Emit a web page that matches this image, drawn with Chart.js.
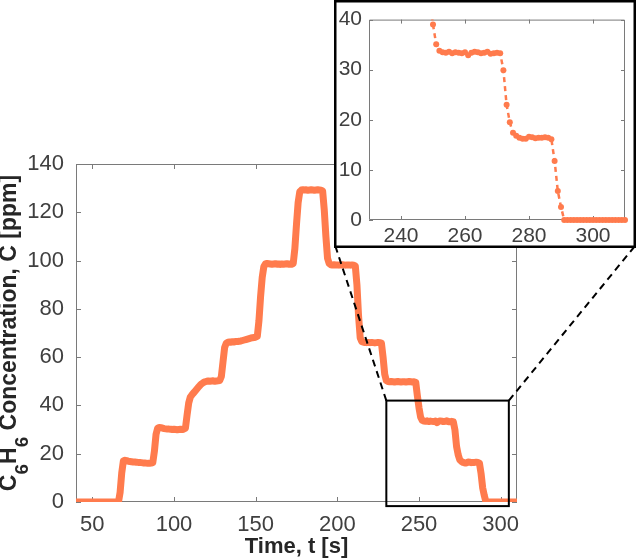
<!DOCTYPE html>
<html>
<head>
<meta charset="utf-8">
<script src="https://cdn.jsdelivr.net/npm/chart.js@4.4.0/dist/chart.umd.min.js"></script>
<style>
  html, body { margin: 0; padding: 0; background: #fff; }
  #wrap { position: relative; width: 640px; height: 558px; overflow: hidden; }
  #main { position: absolute; left: 0; top: 0; }
  #inset { position: absolute; left: 334px; top: 0; }
</style>
</head>
<body>
<div id="wrap">
  <canvas id="main" width="640" height="558"></canvas>
  <canvas id="inset" width="302" height="248"></canvas>
</div>
<script>
// Tiempo [s]
const tiempos = [
  40, 41, 42, 43, 44, 45, 46, 47, 48, 49,
  50, 51, 52, 53, 54, 55, 56, 57, 58, 59,
  60, 61, 62, 63, 64, 65, 66, 67, 68, 69,
  70, 71, 72, 73, 74, 75, 76, 77, 78, 79,
  80, 81, 82, 83, 84, 85, 86, 87, 88, 89,
  90, 91, 92, 93, 94, 95, 96, 97, 98, 99,
  100, 101, 102, 103, 104, 105, 106, 107, 108, 109,
  110, 111, 112, 113, 114, 115, 116, 117, 118, 119,
  120, 121, 122, 123, 124, 125, 126, 127, 128, 129,
  130, 131, 132, 133, 134, 135, 136, 137, 138, 139,
  140, 141, 142, 143, 144, 145, 146, 147, 148, 149,
  150, 151, 152, 153, 154, 155, 156, 157, 158, 159,
  160, 161, 162, 163, 164, 165, 166, 167, 168, 169,
  170, 171, 172, 173, 174, 175, 176, 177, 178, 179,
  180, 181, 182, 183, 184, 185, 186, 187, 188, 189,
  190, 191, 192, 193, 194, 195, 196, 197, 198, 199,
  200, 201, 202, 203, 204, 205, 206, 207, 208, 209,
  210, 211, 212, 213, 214, 215, 216, 217, 218, 219,
  220, 221, 222, 223, 224, 225, 226, 227, 228, 229,
  230, 231, 232, 233, 234, 235, 236, 237, 238, 239,
  240, 241, 242, 243, 244, 245, 246, 247, 248, 249,
  250, 251, 252, 253, 254, 255, 256, 257, 258, 259,
  260, 261, 262, 263, 264, 265, 266, 267, 268, 269,
  270, 271, 272, 273, 274, 275, 276, 277, 278, 279,
  280, 281, 282, 283, 284, 285, 286, 287, 288, 289,
  290, 291, 292, 293, 294, 295, 296, 297, 298, 299,
  300, 301, 302, 303, 304, 305, 306, 307, 308, 309, 310
];

// Concentración de C6H6 [ppm]
const concentracion = [
  0, 0, 0, 0, 0, 0, 0, 0, 0, 0,
  0, 0, 0, 0, 0, 0, 0, 0, 0, 0,
  0, 0, 0, 0, 0, 0, 0, 4, 12, 17.0,
  17.3, 17.1, 16.9, 16.8, 16.7, 16.6, 16.6, 16.5, 16.4, 16.4,
  16.3, 16.2, 16.2, 16.1, 16.0, 16.0, 16.1, 16.3, 21, 28,
  30.6, 30.9, 30.8, 30.6, 30.4, 30.3, 30.2, 30.2, 30.1, 30.0,
  30.1, 30.0, 29.9, 30.0, 30.1, 30.0, 30.2, 30.6, 36, 41,
  43.5, 44.4, 45.2, 46.0, 46.8, 47.6, 48.4, 49.0, 49.5, 49.8,
  50.0, 50.1, 50.0, 50.1, 50.2, 50.0, 50.1, 50.2, 50.3, 52,
  58, 64, 65.8, 66.2, 66.3, 66.2, 66.4, 66.3, 66.5, 66.5,
  66.6, 66.7, 66.9, 67.1, 67.3, 67.5, 67.7, 67.9, 68.0, 68.1,
  68.3, 68.6, 75, 85, 93, 97.5, 98.6, 98.8, 98.7, 98.6,
  98.5, 98.6, 98.7, 98.5, 98.6, 98.4, 98.6, 98.5, 98.6, 98.7,
  98.5, 98.6, 98.5, 98.8, 105, 115, 124, 128.5, 129.2, 129.3,
  129.2, 129.3, 129.1, 129.2, 129.3, 129.2, 129.1, 129.2, 129.3, 129.2,
  129.1, 128.8, 121, 110, 101, 98.8, 98.3, 98.2, 98.3, 98.2,
  98.2, 98.1, 98.2, 98.3, 98.2, 98.1, 98.2, 98.2, 98.1, 98.2,
  98.1, 97.8, 90, 77, 68, 66.4, 66.2, 66.1, 66.0, 66.1,
  66.0, 66.1, 66.0, 65.9, 66.0, 66.1, 66.0, 65.8, 60, 53,
  50.3, 49.9, 49.8, 49.9, 49.8, 49.7, 49.8, 49.9, 49.8, 49.7,
  49.8, 49.8, 49.7, 49.8, 49.9, 49.8, 49.7, 49.8, 49.6, 44,
  39.0, 35.1, 33.8, 33.5, 33.4, 33.6, 33.3, 33.5, 33.4, 33.3,
  33.5, 32.9, 33.4, 33.6, 33.5, 33.3, 33.4, 33.6, 33.2, 33.3,
  33.4, 33.3, 29.9, 23.0, 19.5, 17.4, 16.8, 16.4, 16.2, 16.2,
  16.6, 16.5, 16.3, 16.4, 16.4, 16.5, 16.4, 16.1, 11.8, 5.8,
  2.6, 0, 0, 0, 0, 0, 0, 0, 0, 0,
  0, 0, 0, 0, 0, 0, 0, 0, 0, 0, 0
];

// Ejes
const rangoX = [40, 310];
const rangoY = [0, 140];
const ticksX = [50, 100, 150, 200, 250, 300];
const ticksY = [0, 20, 40, 60, 80, 100, 120, 140];

// Ventana del zoom (recuadro) y ejes del inserto
const zoomX = [230, 305];
const zoomY = [-1.7, 42];
const insetRangoX = [230, 310];
const insetRangoY = [0, 40];
const insetTicksX = [240, 260, 280, 300];
const insetTicksY = [0, 10, 20, 30, 40];

const NARANJA = '#ff7b4d';
const GRIS_EJE = '#7a7a7a';
const GRIS_TEXTO = '#404040';
const FUENTE = "'Liberation Sans', Arial, sans-serif";

// Posición del inserto en la página
const INSET_LEFT = 334, INSET_TOP = 0, INSET_W = 302, INSET_H = 248;

const puntos = tiempos.map((t, i) => ({ x: t, y: concentracion[i] }));

// Dibuja la caja del eje y los ticks hacia adentro (estilo MATLAB)
function dibujarMarco(chart, largo) {
  const { ctx, chartArea: a, scales: { x, y } } = chart;
  ctx.save();
  ctx.strokeStyle = GRIS_EJE;
  ctx.lineWidth = 1;
  ctx.beginPath();
  ctx.rect(a.left + 0.5, a.top + 0.5, a.right - a.left - 1, a.bottom - a.top - 1);
  x.ticks.forEach(t => {
    const px = Math.round(x.getPixelForValue(t.value)) + 0.5;
    ctx.moveTo(px, a.bottom); ctx.lineTo(px, a.bottom - largo);
    ctx.moveTo(px, a.top); ctx.lineTo(px, a.top + largo);
  });
  y.ticks.forEach(t => {
    const py = Math.round(y.getPixelForValue(t.value)) + 0.5;
    ctx.moveTo(a.left, py); ctx.lineTo(a.left + largo, py);
    ctx.moveTo(a.right, py); ctx.lineTo(a.right - largo, py);
  });
  ctx.stroke();
  ctx.restore();
}

const decoracionPrincipal = {
  id: 'decoracionPrincipal',
  beforeDatasetsDraw(chart) {
    dibujarMarco(chart, 5);
  },
  afterDatasetsDraw(chart) {
    const { ctx, scales: { x, y } } = chart;
    const x0 = x.getPixelForValue(zoomX[0]), x1 = x.getPixelForValue(zoomX[1]);
    const y0 = y.getPixelForValue(zoomY[1]), y1 = y.getPixelForValue(zoomY[0]);
    ctx.save();
    // Recuadro de zoom
    ctx.strokeStyle = '#000';
    ctx.lineWidth = 2;
    ctx.strokeRect(x0, y0, x1 - x0, y1 - y0);
    // Líneas de conexión punteadas
    ctx.setLineDash([7, 5]);
    ctx.beginPath();
    ctx.moveTo(x0, y0); ctx.lineTo(INSET_LEFT + 1.5, INSET_TOP + INSET_H - 1.5);
    ctx.moveTo(x1, y0); ctx.lineTo(INSET_LEFT + INSET_W - 1.5, INSET_TOP + INSET_H - 1.5);
    ctx.stroke();
    ctx.restore();
  },
  afterDraw(chart) {
    const { ctx, chartArea: a } = chart;
    ctx.save();
    ctx.fillStyle = '#262626';
    // Título eje X
    ctx.font = 'bold 22px ' + FUENTE;
    ctx.textAlign = 'center';
    ctx.textBaseline = 'alphabetic';
    ctx.fillText('Time, t [s]', (a.left + a.right) / 2, 553);
    // Título eje Y con subíndices
    const partes = [
      ['C', 23, 0], ['6', 19, 12], ['H', 23, 0], ['6', 19, 12],
      [' Concentration, C [ppm]', 23, 0]
    ];
    let total = 0;
    partes.forEach(p => { ctx.font = 'bold ' + p[1] + 'px ' + FUENTE; total += ctx.measureText(p[0]).width; });
    ctx.translate(16, (a.top + a.bottom) / 2);
    ctx.rotate(-Math.PI / 2);
    ctx.textAlign = 'left';
    let u = -total / 2;
    partes.forEach(p => {
      ctx.font = 'bold ' + p[1] + 'px ' + FUENTE;
      ctx.fillText(p[0], u, p[2]);
      u += ctx.measureText(p[0]).width;
    });
    ctx.restore();
  }
};

const decoracionInserto = {
  id: 'decoracionInserto',
  beforeDraw(chart) {
    const { ctx, width, height } = chart;
    ctx.save();
    ctx.fillStyle = '#fff';
    ctx.fillRect(0, 0, width, height);
    ctx.restore();
  },
  beforeDatasetsDraw(chart) {
    dibujarMarco(chart, 4);
  },
  afterDraw(chart) {
    const { ctx, width, height } = chart;
    ctx.save();
    ctx.strokeStyle = '#000';
    ctx.lineWidth = 2.5;
    ctx.strokeRect(1.25, 1.25, width - 2.5, height - 2.5);
    ctx.restore();
  }
};

// Gráfico principal
new Chart(document.getElementById('main'), {
  type: 'line',
  data: {
    datasets: [{
      data: puntos,
      borderColor: NARANJA,
      borderWidth: 7,
      borderJoinStyle: 'round',
      pointRadius: 0,
      tension: 0
    }]
  },
  options: {
    responsive: false,
    animation: false,
    devicePixelRatio: 1,
    layout: { padding: { left: 0, top: 164, right: 123, bottom: 0 } },
    plugins: { legend: { display: false }, tooltip: { enabled: false } },
    scales: {
      x: {
        type: 'linear',
        min: rangoX[0], max: rangoX[1],
        afterBuildTicks: s => { s.ticks = ticksX.map(v => ({ value: v })); },
        afterFit: s => { s.height = 56; },
        grid: { display: false, drawTicks: false },
        border: { display: false },
        ticks: { autoSkip: false, maxRotation: 0, padding: 10, color: GRIS_TEXTO, font: { family: FUENTE, size: 22 } }
      },
      y: {
        min: rangoY[0], max: rangoY[1],
        afterBuildTicks: s => { s.ticks = ticksY.map(v => ({ value: v })); },
        afterFit: s => { s.width = 76; },
        grid: { display: false, drawTicks: false },
        border: { display: false },
        ticks: { autoSkip: false, padding: 12, color: GRIS_TEXTO, font: { family: FUENTE, size: 22 } }
      }
    }
  },
  plugins: [decoracionPrincipal]
});

// Inserto (zoom)
new Chart(document.getElementById('inset'), {
  type: 'line',
  data: {
    datasets: [{
      data: puntos,
      borderColor: NARANJA,
      backgroundColor: NARANJA,
      borderWidth: 2.5,
      borderDash: [5, 4],
      pointRadius: 3,
      pointBorderWidth: 0,
      pointBackgroundColor: NARANJA,
      tension: 0,
      clip: { left: 0, top: 0, right: 5, bottom: 5 }
    }]
  },
  options: {
    responsive: false,
    animation: false,
    devicePixelRatio: 1,
    layout: { padding: { left: 0, top: 15, right: 11, bottom: 0 } },
    plugins: { legend: { display: false }, tooltip: { enabled: false } },
    scales: {
      x: {
        type: 'linear',
        min: insetRangoX[0], max: insetRangoX[1],
        afterBuildTicks: s => { s.ticks = insetTicksX.map(v => ({ value: v })); },
        afterFit: s => { s.height = 28; },
        grid: { display: false, drawTicks: false },
        border: { display: false },
        ticks: { autoSkip: false, maxRotation: 0, padding: 4, color: GRIS_TEXTO, font: { family: FUENTE, size: 21 } }
      },
      y: {
        min: insetRangoY[0], max: insetRangoY[1],
        afterBuildTicks: s => { s.ticks = insetTicksY.map(v => ({ value: v })); },
        afterFit: s => { s.width = 35; },
        grid: { display: false, drawTicks: false },
        border: { display: false },
        ticks: { autoSkip: false, padding: 7, color: GRIS_TEXTO, font: { family: FUENTE, size: 21 } }
      }
    }
  },
  plugins: [decoracionInserto]
});
</script>
</body>
</html>
